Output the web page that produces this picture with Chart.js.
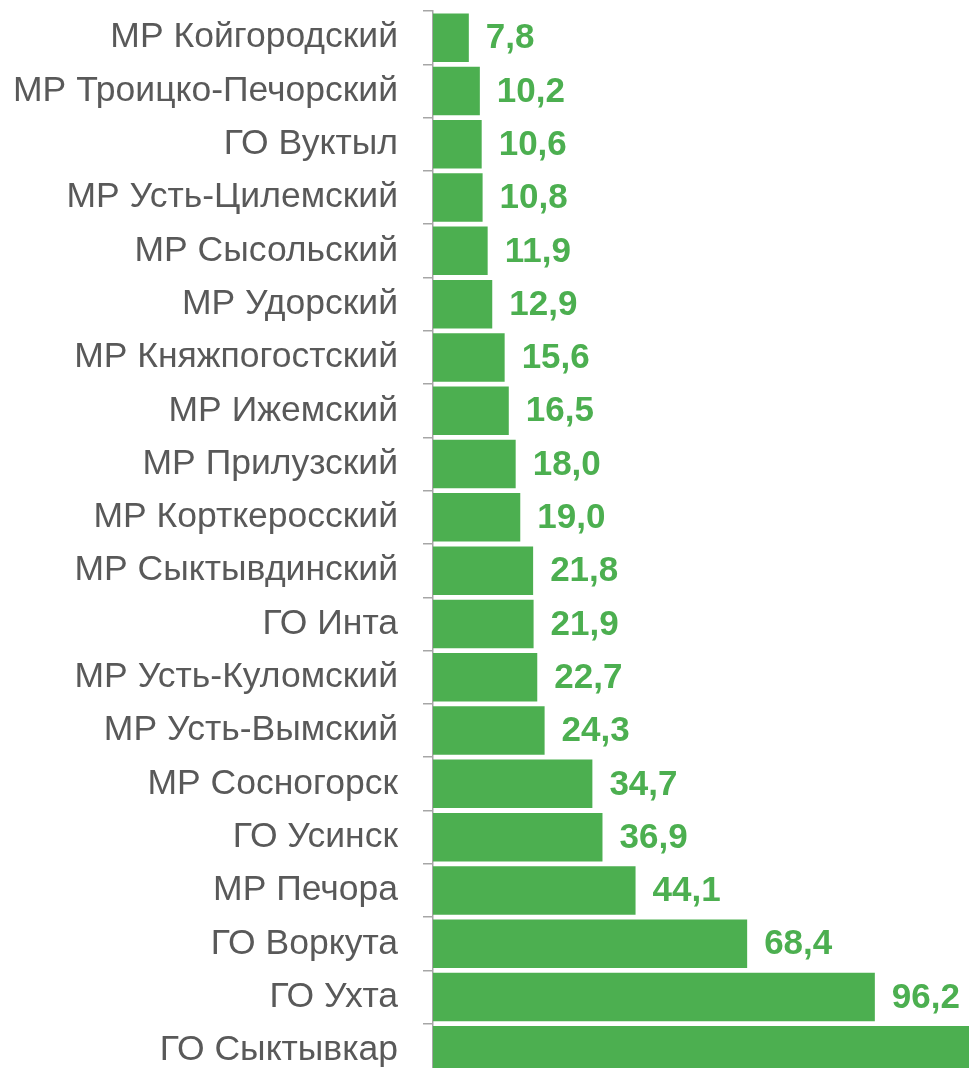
<!DOCTYPE html>
<html>
<head>
<meta charset="utf-8">
<script src="https://cdn.jsdelivr.net/npm/chart.js@4"></script>
<style>
    html, body { margin: 0; padding: 0; background: #ffffff; overflow: hidden; }
    #wrap { position: relative; width: 969px; height: 1077px; }
</style>
</head>
<body>
<div id="wrap"><canvas id="barChart"></canvas></div>
<script>
// districts, top to bottom
const districts = [
    'МР Койгородский', 'МР Троицко-Печорский', 'ГО Вуктыл', 'МР Усть-Цилемский',
    'МР Сысольский', 'МР Удорский', 'МР Княжпогостский', 'МР Ижемский',
    'МР Прилузский', 'МР Корткеросский', 'МР Сыктывдинский', 'ГО Инта',
    'МР Усть-Куломский', 'МР Усть-Вымский', 'МР Сосногорск', 'ГО Усинск',
    'МР Печора', 'ГО Воркута', 'ГО Ухта', 'ГО Сыктывкар'
];
// last bar runs off the picture, its value is only an estimate
const values = [
    7.8, 10.2, 10.6, 10.8, 11.9, 12.9, 15.6, 16.5, 18.0, 19.0,
    21.8, 21.9, 22.7, 24.3, 34.7, 36.9, 44.1, 68.4, 96.2, 250
];
const xMax = 116.7;

const green = '#4CAF50';
const labelGray = '#595959';
const fontFamily = '"Liberation Sans", Arial, sans-serif';

// value labels right of each bar, skipped when outside the plot
const valueLabels = {
    id: 'valueLabels',
    afterDatasetsDraw(chart) {
        const ctx = chart.ctx;
        const meta = chart.getDatasetMeta(0);
        ctx.save();
        ctx.font = 'bold 35px ' + fontFamily;
        ctx.fillStyle = green;
        ctx.textAlign = 'left';
        ctx.textBaseline = 'middle';
        meta.data.forEach((bar, i) => {
            const x = bar.x + 17;
            if (x > chart.chartArea.right) return;
            ctx.fillText(values[i].toFixed(1).replace('.', ','), x, bar.y + 1);
        });
        ctx.restore();
    }
};

const ctx = document.getElementById('barChart').getContext('2d');
const chart = new Chart(ctx, {
    type: 'bar',
    data: {
        labels: districts,
        datasets: [{
            data: values,
            backgroundColor: green,
            borderWidth: 0,
            barPercentage: 0.91,
            categoryPercentage: 1.0
        }]
    },
    options: {
        indexAxis: 'y',
        responsive: true,
        maintainAspectRatio: false,
        animation: false,
        layout: {
            padding: { top: 11, bottom: 0, left: 0, right: 0 }
        },
        scales: {
            x: {
                display: false,
                min: 0,
                max: xMax
            },
            y: {
                afterFit(scale) {
                    scale.width = 433;
                    scale.paddingTop = 0;
                    scale.paddingBottom = 0;
                },
                grid: {
                    offset: true,
                    drawOnChartArea: false,
                    drawTicks: true,
                    tickLength: 10,
                    color: '#a6a6a6',
                    lineWidth: 1.5
                },
                border: { display: true, color: '#a6a6a6', width: 1.5 },
                ticks: {
                    color: labelGray,
                    padding: 25,
                    font: { family: fontFamily, size: 35.5 }
                }
            }
        },
        plugins: {
            legend: { display: false },
            tooltip: { enabled: false }
        }
    },
    plugins: [valueLabels]
});
</script>
</body>
</html>
